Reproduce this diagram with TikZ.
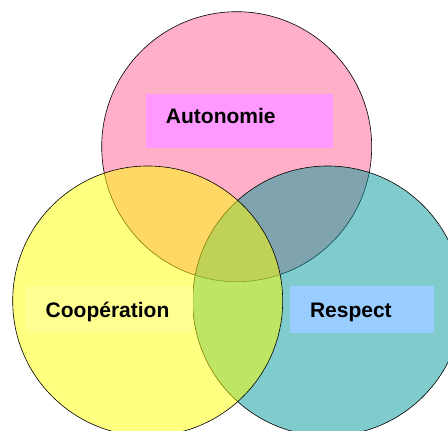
\documentclass[tikz,border=0pt]{standalone}
\usepackage{fontspec}
\setmainfont{Liberation Sans}
\usepackage{tikz}
\usetikzlibrary{positioning,shapes}

\definecolor{pinkbase}{RGB}{255,97,145}
\definecolor{tealbase}{RGB}{1,153,153}
\definecolor{yellowbase}{RGB}{255,255,1}
\definecolor{autobox}{RGB}{255,153,255}
\definecolor{coopbox}{RGB}{255,255,145}
\definecolor{respbox}{RGB}{153,204,255}

\begin{document}
\begin{tikzpicture}[x = 1pt, y = 1pt,
  venn/.style = {circle, draw = black, line width = .6pt, minimum size = 270pt, inner sep = 0pt, fill opacity = .5},
  lab/.style = {rectangle, inner xsep = 20pt, inner ysep = 0pt, align = left,
    text height = 15.2pt, text depth = 0pt,
    font = \bfseries\fontsize{21}{25}\selectfont}]
\clip (0, 0) rectangle (448, 431);

\node[venn, fill = pinkbase] (topc) at (236.7, 284.3) {};
\node[venn, fill = tealbase] (rightc) at (327.7, 130) {};
\node[venn, fill = yellowbase] (leftc) at (147.7, 130) {};

\node[lab, fill = autobox, text width = 146.7pt, minimum height = 53.7pt, text depth = 8.8pt] (auto) at (239.3, 310.2) {Autonomie};
\node[lab, fill = coopbox, text width = 127.6pt, minimum height = 47.3pt] (coop) at (109.5, 121.3) {Coopération};
\node[lab, fill = respbox, text width = 104pt, minimum height = 47.3pt] (resp) at (362, 121.3) {Respect};

\end{tikzpicture}
\end{document}
